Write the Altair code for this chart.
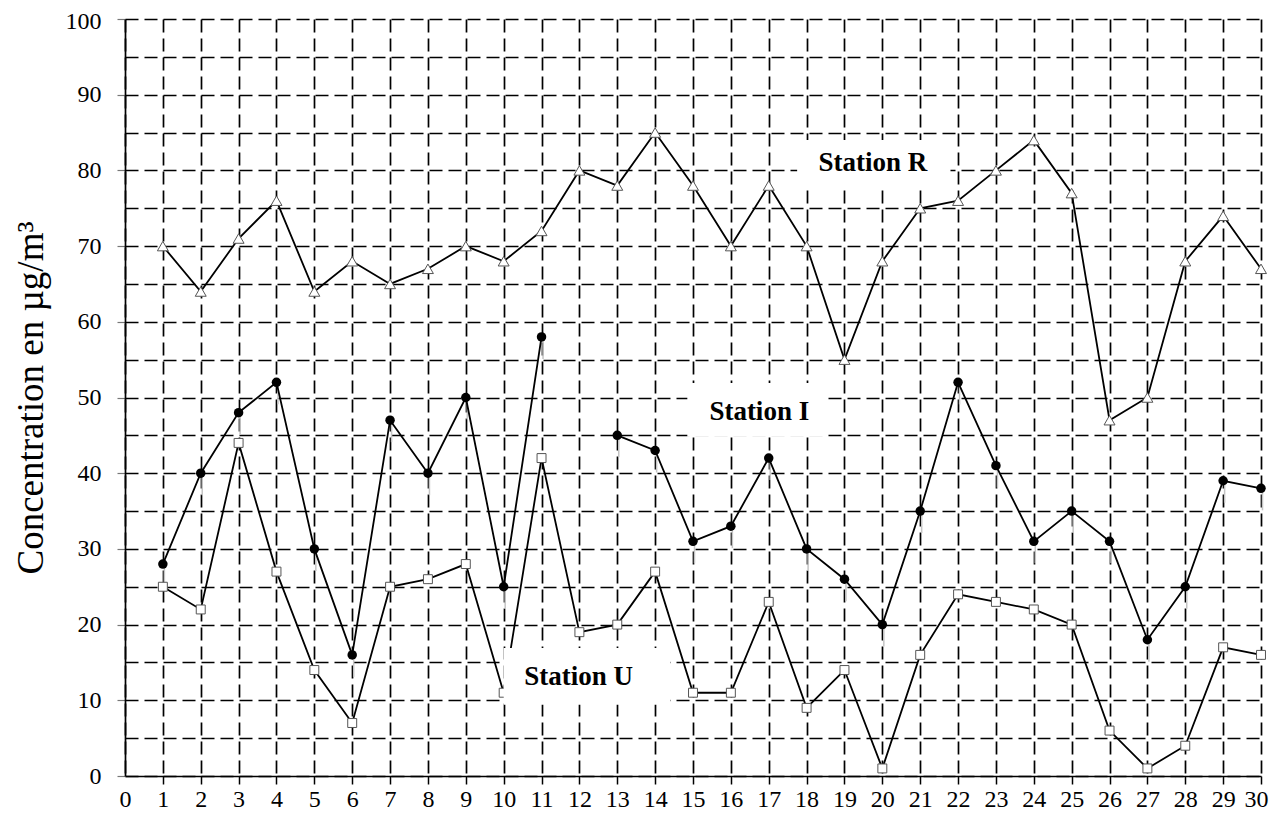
import altair as alt
import pandas as pd

# ---- data ----
days = list(range(1, 31))
station_r = [70, 64, 71, 76, 64, 68, 65, 67, 70, 68, 72, 80, 78, 85, 78,
             70, 78, 70, 55, 68, 75, 76, 80, 84, 77, 47, 50, 68, 74, 67]
station_i = [28, 40, 48, 52, 30, 16, 47, 40, 50, 25, 58, None, 45, 43, 31,
             33, 42, 30, 26, 20, 35, 52, 41, 31, 35, 31, 18, 25, 39, 38]
station_u = [25, 22, 44, 27, 14, 7, 25, 26, 28, 11, 42, 19, 20, 27, 11,
             11, 23, 9, 14, 1, 16, 24, 23, 22, 20, 6, 1, 4, 17, 16]

label_text = ["Station R", "Station I", "Station U"]
label_x = [19.75, 16.75, 11.98]
label_y = [81.0, 48.1, 13.1]
box_x1 = [17.75, 14.85, 10.0]
box_x2 = [21.8, 18.45, 14.4]
box_y1 = [77.4, 44.8, 9.4]
box_y2 = [84.0, 51.9, 16.9]

x_ticks = list(range(0, 31))
y_ticks = list(range(0, 101, 5))
y_title = "Concentration en µg/m³"

# ---- tables ----
df_r = pd.DataFrame({"day": days, "value": station_r})
df_u = pd.DataFrame({"day": days, "value": station_u})
seg, s = [], 0
for v in station_i:
    if v is None:
        s += 1
    seg.append(s)
df_i = pd.DataFrame({"day": days, "value": station_i, "seg": seg}).dropna()
df_lab = pd.DataFrame({"text": label_text, "x": label_x, "y": label_y,
                       "x1": box_x1, "x2": box_x2, "y1": box_y1, "y2": box_y2})

SERIF = "Liberation Serif"
xs = alt.Scale(domain=[0, 30], nice=False, zero=False)
ys = alt.Scale(domain=[0, 100], nice=False, zero=False)

x_axis = alt.Axis(
    values=x_ticks, grid=True, gridColor="black", gridDash=[13, 6], gridWidth=1.7,
    domainColor="black", domainWidth=1.7, tickColor="black", tickWidth=1.5, tickSize=8,
    tickOpacity={"condition": {"test": "datum.value === 0", "value": 0}, "value": 1},
    labelOffset={"condition": {"test": "datum.value === 30", "value": -5}, "value": 0},
    labelFont=SERIF, labelFontSize=24, labelColor="black", labelPadding=3,
    labelFlush=False, title=None,
)
y_axis = alt.Axis(
    values=y_ticks, grid=True, gridColor="black", gridDash=[13, 6], gridWidth=1.7,
    domainColor="black", domainWidth=1.7, tickColor="#777", tickWidth=1.2, tickSize=8,
    tickOpacity={"condition": {"test": "datum.value % 10 === 0", "value": 1}, "value": 0},
    labelOffset={"condition": {"test": "datum.value === 100", "value": 2}, "value": 0},
    labelExpr="datum.value % 10 === 0 ? datum.label : ''",
    labelFont=SERIF, labelFontSize=24, labelColor="black", labelPadding=16,
    labelFlush=False,
    title=y_title, titleFont=SERIF, titleFontSize=37, titleFontWeight="normal",
    titleColor="black", titlePadding=15,
)

X = alt.X("day:Q", scale=xs, axis=x_axis)
Y = alt.Y("value:Q", scale=ys, axis=y_axis)

stubs = alt.Chart(df_i).mark_rule(color="#c4c4c4", strokeWidth=1.5, xOffset=1.5,
                                   yOffset=4, y2Offset=22).encode(
    x=X, y=Y, y2=alt.Y2("value:Q"))

line_kw = dict(color="black", strokeWidth=1.8)
line_r = alt.Chart(df_r).mark_line(**line_kw).encode(x=X, y=Y)
line_i = alt.Chart(df_i).mark_line(**line_kw).encode(x=X, y=Y, detail="seg:N")
line_u = alt.Chart(df_u).mark_line(**line_kw).encode(x=X, y=Y)

pts_r = alt.Chart(df_r).mark_point(shape="triangle-up", filled=True, fill="white",
                                    stroke="#555", strokeWidth=1, size=120, opacity=1).encode(x=X, y=Y)
pts_i = alt.Chart(df_i).mark_circle(color="black", size=90, opacity=1).encode(x=X, y=Y)
pts_u = alt.Chart(df_u).mark_point(shape="square", filled=True, fill="white",
                                    stroke="#555", strokeWidth=1, size=80, opacity=1).encode(x=X, y=Y)

boxes = alt.Chart(df_lab).mark_rect(color="white", opacity=1).encode(
    x=alt.X("x1:Q", scale=xs, axis=x_axis), x2="x2:Q",
    y=alt.Y("y1:Q", scale=ys, axis=y_axis), y2="y2:Q")

texts = alt.Chart(df_lab).mark_text(font=SERIF, fontSize=27, fontWeight="bold",
                                     color="black", align="center", baseline="middle").encode(
    x=alt.X("x:Q", scale=xs, axis=x_axis), y=alt.Y("y:Q", scale=ys, axis=y_axis), text="text:N")

chart = alt.layer(
    stubs, line_r, line_i, line_u, pts_r, pts_i, pts_u, boxes, texts
).properties(
    width=1136, height=757,
    autosize=alt.AutoSizeParams(type="none"),
    padding={"left": 117, "top": 11, "right": 9, "bottom": 36},
    background="white",
).configure_view(stroke=None)

chart.save("out.html", embed_options={"renderer": "svg", "actions": False})
